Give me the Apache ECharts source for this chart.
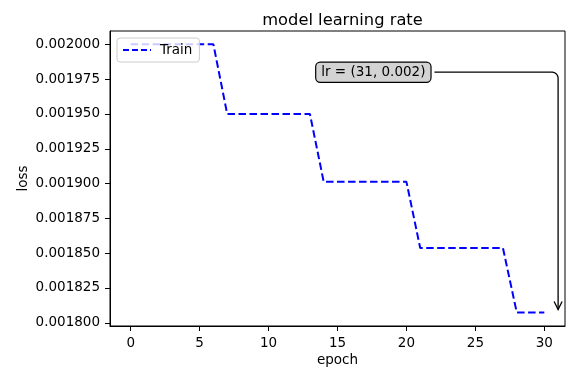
<!DOCTYPE html>
<html>
<head>
<meta charset="utf-8">
<script src="https://cdn.jsdelivr.net/npm/echarts@6/dist/echarts.min.js"></script>
<style>html,body{margin:0;padding:0;background:#fff}#c{width:575px;height:369px}</style>
</head>
<body>
<div id="c"></div>
<script>
// ---- data ----
const epochs = [0,1,2,3,4,5,6,7,8,9,10,11,12,13,14,15,16,17,18,19,20,21,22,23,24,25,26,27,28,29,30];
const lrValues = [
  0.002, 0.002, 0.002, 0.002, 0.002, 0.002, 0.002,
  0.00195, 0.00195, 0.00195, 0.00195, 0.00195, 0.00195, 0.00195,
  0.00190125, 0.00190125, 0.00190125, 0.00190125, 0.00190125, 0.00190125, 0.00190125,
  0.0018537, 0.0018537, 0.0018537, 0.0018537, 0.0018537, 0.0018537, 0.0018537,
  0.0018074, 0.0018074, 0.0018074
];
const xTicks = [0, 5, 10, 15, 20, 25, 30];
const yTicks = [0.0018, 0.001825, 0.00185, 0.001875, 0.0019, 0.001925, 0.00195, 0.001975, 0.002];
const seriesName = 'Train';
const titleText = 'model learning rate';
const xName = 'epoch';
const yName = 'loss';
const annotText = 'lr = (31, 0.002)';
const annotPoint = [31, 0.0018074];
const annotTextPos = [17.6, 0.00198];

const FONT = 'DejaVu Sans';
const chart = echarts.init(document.getElementById('c'), null, {renderer: 'canvas'});
const seriesData = epochs.map((e, i) => [e, lrValues[i]]);

const option = {
  animation: false,
  textStyle: {fontFamily: FONT},
  title: {
    text: titleText, left: 337.5, top: 8, textAlign: 'center',
    textStyle: {fontFamily: FONT, fontSize: 16.3, fontWeight: 'normal', color: '#000'}
  },
  grid: {left: 110, right: 10, top: 31, bottom: 43, show: true, borderColor: '#000', borderWidth: 1,
    backgroundColor: 'transparent', containLabel: false, outerBoundsMode: 'none'},
  legend: {
    left: 117, top: 38, orient: 'vertical',
    padding: [5, 7, 5, 5], itemWidth: 28, itemHeight: 12, itemGap: 4,
    backgroundColor: 'rgba(255,255,255,0.8)', borderColor: '#cccccc', borderWidth: 1, borderRadius: 3,
    textStyle: {fontFamily: FONT, fontSize: 13.5, color: '#000', padding: [0, 0, 0, 4]},
    itemStyle: {color: 'rgba(0,0,0,0)', borderWidth: 0},
    lineStyle: {color: '#0000ff', width: 2, type: [6, 3]},
    data: [seriesName]
  },
  xAxis: {
    type: 'value', min: -1.5, max: 31.5,
    name: xName, nameLocation: 'middle', nameGap: 27, nameMoveOverlap: false,
    nameTextStyle: {fontFamily: FONT, fontSize: 13.5, color: '#000'},
    splitLine: {show: false},
    axisLine: {show: true, onZero: false, lineStyle: {color: '#000', width: 1}},
    axisTick: {show: true, length: 5, customValues: xTicks, lineStyle: {color: '#000'}},
    axisLabel: {customValues: xTicks, margin: 10, fontFamily: FONT, fontSize: 13.5, color: '#000'}
  },
  yAxis: {
    type: 'value', min: 0.0017977, max: 0.0020096,
    name: yName, nameLocation: 'middle', nameGap: 80, nameRotate: 90, nameMoveOverlap: false,
    nameTextStyle: {fontFamily: FONT, fontSize: 13.5, color: '#000'},
    splitLine: {show: false},
    axisLine: {show: true, onZero: false, lineStyle: {color: '#000', width: 1}},
    axisTick: {show: true, length: 5, customValues: yTicks, lineStyle: {color: '#000'}},
    axisLabel: {customValues: yTicks, margin: 10, fontFamily: FONT, fontSize: 13.5, color: '#000',
      formatter: v => v.toFixed(6)}
  },
  series: [{
    name: seriesName, type: 'line', data: seriesData, symbol: 'none', showSymbol: false,
    lineStyle: {color: '#0000ff', width: 2, type: [7.5, 3.5]},
    itemStyle: {color: '#0000ff'}
  }]
};
chart.setOption(option);

function drawExtras() {
  const tip = chart.convertToPixel({gridIndex: 0}, annotPoint);
  const tc = chart.convertToPixel({gridIndex: 0}, annotTextPos);
  const fontStr = '13.5px "' + FONT + '"';
  const ctx = document.createElement('canvas').getContext('2d');
  ctx.font = fontStr;
  const tw = ctx.measureText(annotText).width;
  const padX = 5;
  const boxRight = tc[0] + tw / 2 + padX + 1;
  const x = tip[0], y = tc[1];
  const r = 6;
  const tipY = tip[1] - 3;
  const corner = [];
  for (let k = 0; k <= 6; k++) {
    const a = Math.PI / 2 * k / 6;
    corner.push([x - r + r * Math.sin(a), y + r - r * Math.cos(a)]);
  }
  const pts = [[boxRight + 3, y]].concat(corner).concat([[x, tipY]]);
  chart.setOption({
    graphic: [
      {type: 'polyline', id: 'arrow', shape: {points: pts}, style: {fill: null, stroke: '#000', lineWidth: 1.3}, z: 10},
      {type: 'polyline', id: 'arrowhead', shape: {points: [[x - 4, tipY - 8], [x, tipY], [x + 4, tipY - 8]]}, style: {fill: null, stroke: '#000', lineWidth: 1.3}, z: 10},
      {type: 'text', id: 'annot', x: tc[0], y: tc[1], z: 11,
        style: {text: annotText, align: 'center', verticalAlign: 'middle', font: fontStr, fill: '#000',
          backgroundColor: '#d3d3d3', borderColor: '#000', borderWidth: 1.2, borderRadius: 4, padding: [3, padX, 2, padX]}}
    ]
  });
}
drawExtras();
</script>
</body>
</html>
